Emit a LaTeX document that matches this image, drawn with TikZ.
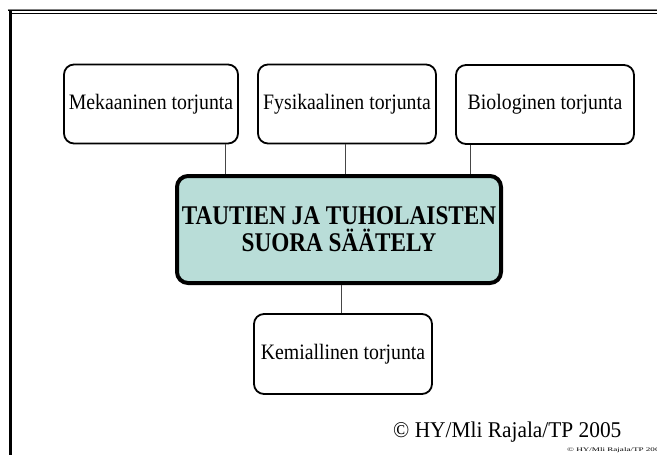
\documentclass[tikz,border=0pt]{standalone}
\usepackage{fontspec}
\setmainfont{Liberation Serif}[FakeStretch=0.9]
\newfontfamily\headfont{Liberation Serif}[FakeStretch=0.86]
\newfontfamily\notefont{Liberation Serif}[FakeStretch=0.95]
\newfontfamily\tinyfont{Liberation Serif}[FakeStretch=1.65]
\definecolor{tealfill}{RGB}{185,221,216}
\definecolor{linkgray}{RGB}{70,70,70}
\tikzset{
  methodbox/.style={draw=black, line width=1.8pt, rounded corners=10pt, fill=white,
    minimum width=176pt, minimum height=79pt, inner sep=0pt, align=center,
    font=\fontsize{22}{24}\selectfont},
  mainbox/.style={draw=black, line width=4pt, rounded corners=11pt, fill=tealfill,
    minimum width=324pt, minimum height=107pt, inner sep=0pt, align=center,
    font=\headfont\bfseries\fontsize{27}{27}\selectfont},
  link/.style={draw=linkgray, line width=1pt},
  framebar/.style={draw=black, line width=1.3pt}
}
\begin{document}
\begin{tikzpicture}[x=1pt,y=-1pt]
  \useasboundingbox (0,0) rectangle (657,455);
  \fill[white] (0,0) rectangle (657,455);

  % slide frame: double rule on top, heavy rule on the left
  \draw[draw=gray, line width=0.9pt] (7.5,9.2) -- (657,9.2);
  \draw[framebar] (8,10.8) -- (657,10.8);
  \draw[framebar] (10,13.3) -- (657,13.3);
  \draw[draw=black, line width=2.6pt] (10.5,10) -- (10.5,455);

  % boxes
  \node[methodbox, minimum width=174pt] (mek) at (151,104) {Mekaaninen torjunta};
  \node[methodbox, minimum width=178pt] (fys) at (347,104) {Fysikaalinen torjunta};
  \node[methodbox, minimum width=178pt] (bio) at (545,104.5) {Biologinen torjunta};
  \node[mainbox] (ctr) at (339,229.5) {TAUTIEN JA TUHOLAISTEN\\SUORA SÄÄTELY};
  \node[methodbox, minimum width=178pt, minimum height=80pt] (kem) at (343,354) {Kemiallinen torjunta};

  % connectors
  \draw[link] (mek.south -| 225,0) -- (ctr.north -| 225,0);
  \draw[link] (fys.south -| 345,0) -- (ctr.north -| 345,0);
  \draw[link] (bio.south -| 470,0) -- (ctr.north -| 470,0);
  \draw[link] (ctr.south -| 341,0) -- (kem.north -| 341,0);

  % credits
  \node[anchor=base west, inner sep=0pt, font=\notefont\fontsize{22.5}{24}\selectfont] (credit) at (393,437) {© HY/Mli Rajala/TP 2005};
  \node[anchor=base west, inner sep=0pt, font=\tinyfont\fontsize{5.5}{6}\selectfont] (creditsmall) at (567,451) {© HY/Mli Rajala/TP 2005};
\end{tikzpicture}
\end{document}
